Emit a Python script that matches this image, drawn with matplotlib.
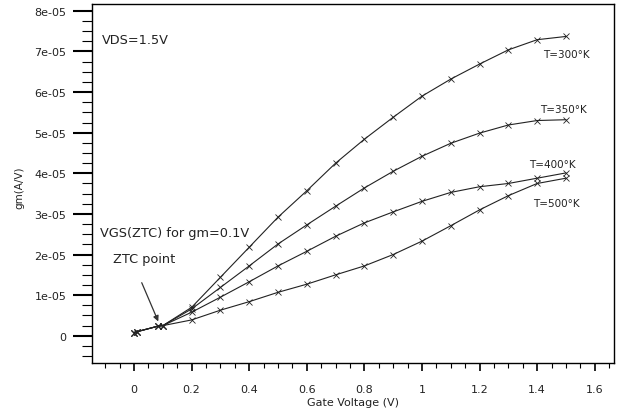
import numpy as np
import matplotlib
matplotlib.use("Agg")
import matplotlib.pyplot as plt
from matplotlib.ticker import MultipleLocator, FuncFormatter

# gate voltage (V)
vgs = [0, 0.01, 0.085, 0.1, 0.2, 0.3, 0.4, 0.5, 0.6, 0.7, 0.8, 0.9, 1.0,
       1.1, 1.2, 1.3, 1.4, 1.5]

# gm in units of 1e-5 A/V
gm_300 = [0.08, 0.10, 0.24, 0.25, 0.70, 1.44, 2.18, 2.92, 3.57, 4.25, 4.84,
          5.38, 5.90, 6.32, 6.69, 7.04, 7.29, 7.37]
gm_350 = [0.08, 0.10, 0.24, 0.25, 0.66, 1.19, 1.72, 2.26, 2.73, 3.19, 3.64,
          4.05, 4.42, 4.74, 4.99, 5.19, 5.30, 5.32]
gm_400 = [0.08, 0.10, 0.24, 0.25, 0.58, 0.95, 1.33, 1.72, 2.08, 2.45, 2.78,
          3.05, 3.31, 3.53, 3.67, 3.75, 3.88, 4.01]
gm_500 = [0.08, 0.10, 0.24, 0.25, 0.39, 0.63, 0.84, 1.07, 1.27, 1.50, 1.72,
          2.00, 2.33, 2.71, 3.10, 3.45, 3.75, 3.88]

curves = [gm_300, gm_350, gm_400, gm_500]
labels = ["T=300°K", "T=350°K", "T=400°K", "T=500°K"]
label_pos = [(1.42, 6.95), (1.41, 5.59), (1.372, 4.24), (1.387, 3.28)]


def main():
    fig = plt.figure(figsize=(6.24, 4.14), dpi=100)
    ax = fig.add_axes([0.1474, 0.1208, 0.8366, 0.8672])

    for gm in curves:
        ax.plot(vgs, np.array(gm) * 1e-5, color="#222222", lw=0.8,
                marker="x", ms=5, mew=0.6)

    for lab, (x, y) in zip(labels, label_pos):
        ax.text(x, y * 1e-5, lab, fontsize=7.5, color="#222222", va="center")

    ax.text(-0.112, 7.3e-5, "VDS=1.5V", fontsize=9.3, color="#222222",
            va="center")
    ax.text(-0.118, 2.55e-5, "VGS(ZTC) for gm=0.1V", fontsize=9.3,
            color="#222222", va="center")
    ax.text(-0.073, 1.9e-5, "ZTC point", fontsize=9.3, color="#222222",
            va="center")
    ax.annotate("", xy=(0.088, 0.29e-5), xytext=(0.023, 1.37e-5),
                arrowprops=dict(arrowstyle="-|>", color="#333333", lw=0.9,
                                mutation_scale=8))

    ax.set_xlim(-0.146, 1.667)
    ax.set_ylim(-0.67e-5, 8.17e-5)
    ax.xaxis.set_major_locator(MultipleLocator(0.2))
    ax.xaxis.set_minor_locator(MultipleLocator(0.05))
    ax.yaxis.set_major_locator(MultipleLocator(1e-5))
    ax.yaxis.set_minor_locator(MultipleLocator(0.25e-5))
    ax.xaxis.set_major_formatter(FuncFormatter(lambda v, p: "%g" % round(v, 2)))
    ax.yaxis.set_major_formatter(
        FuncFormatter(lambda v, p: "0" if abs(v) < 1e-12 else "%.0e" % v))

    ax.tick_params(axis="x", which="major", length=6, width=1.2, pad=9,
                   labelsize=8, labelcolor="#222222")
    ax.tick_params(axis="x", which="minor", length=3.6, width=0.8)
    ax.tick_params(axis="y", which="major", length=13.5, width=1.5, pad=5,
                   labelsize=8, labelcolor="#222222")
    ax.tick_params(axis="y", which="minor", length=7, width=0.8)

    ax.set_xlabel("Gate Voltage (V)", fontsize=8, color="#222222")
    ax.set_ylabel("gm(A/V)", fontsize=7.5, color="#222222")
    ax.yaxis.set_label_coords(-0.13, 0.49)
    ax.xaxis.set_label_coords(0.5, -0.095)

    for s in ax.spines.values():
        s.set_linewidth(1.0)

    fig.savefig("out.png", dpi=100)


if __name__ == "__main__":
    main()
